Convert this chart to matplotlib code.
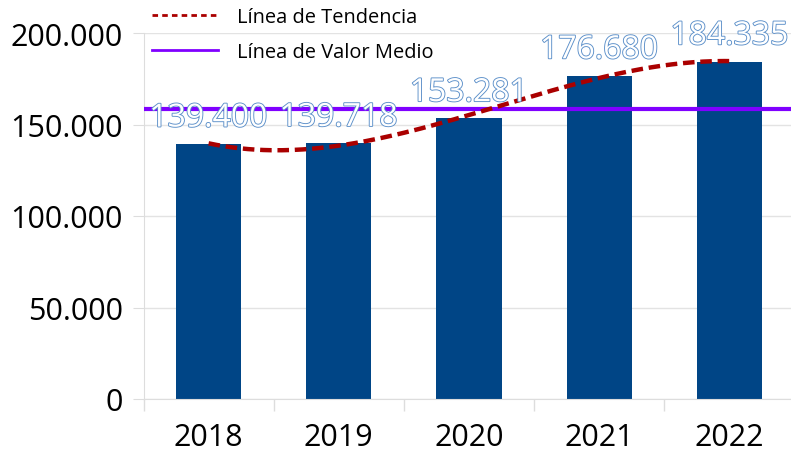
import numpy as np
import matplotlib
matplotlib.use('Agg')
import matplotlib.pyplot as plt
import matplotlib.ticker as ticker
import matplotlib.patheffects as pe
from matplotlib.lines import Line2D

years = ['2018', '2019', '2020', '2021', '2022']
valores = [139400, 139718, 153281, 176680, 184335]
etiquetas = ['139.400', '139.718', '153.281', '176.680', '184.335']
leyenda = ['Línea de Tendencia', 'Línea de Valor Medio']

plt.rcParams['font.family'] = ['Open Sans', 'DejaVu Sans']

fig = plt.figure(figsize=(7.91, 4.52), dpi=100)
ax = fig.add_axes([143.5 / 791, 52 / 452, 651 / 791, 366 / 452])

x = np.arange(len(years))
ax.bar(x, valores, width=0.5, color='#004586', zorder=2)

media = np.mean(valores)
ax.axhline(media, color='#8000ff', lw=3, zorder=3)

# linea de tendencia (ajuste polinomico)
coef = np.polyfit(x, valores, 3)
xt = np.linspace(0, 4, 200)
ax.plot(xt, np.polyval(coef, xt), color='#aa0000', lw=3.2,
        dashes=(2.6, 1.3), zorder=5)

for xi, v, lab in zip(x, valores, etiquetas):
    ax.annotate(lab, (xi, v), xytext=(0, 12.5), textcoords='offset points',
                ha='center', va='baseline', fontsize=23, color='white',
                zorder=6, annotation_clip=False,
                path_effects=[pe.withStroke(linewidth=1.3, foreground='#5b8fc9')])

ax.set_xlim(-0.5, 4.5)
ax.set_ylim(0, 200000)
ax.yaxis.set_major_locator(ticker.MultipleLocator(50000))
ax.yaxis.set_major_formatter(ticker.FuncFormatter(
    lambda v, p: '{:,.0f}'.format(v).replace(',', '.')))
ax.set_xticks(x)
ax.set_xticklabels(years)
ax.set_xticks(np.arange(-0.5, 5, 1), minor=True)
ax.tick_params(axis='x', which='major', length=0, pad=16.5, labelsize=22)
ax.tick_params(axis='x', which='minor', length=8.5, color='#dddddd', width=1)
ax.tick_params(axis='y', length=8, color='#dddddd', pad=7, labelsize=22)

ax.grid(axis='y', color='#e3e3e3', lw=1, zorder=0)
for s in ['top', 'right']:
    ax.spines[s].set_visible(False)
for s in ['left', 'bottom']:
    ax.spines[s].set_color('#dddddd')

handles = [Line2D([], [], color='#aa0000', lw=2, dashes=(2, 1.5)),
           Line2D([], [], color='#8000ff', lw=2)]
fig.legend(handles, leyenda, loc='upper left',
           bbox_to_anchor=(152 / 791, 1 - 8 / 452), frameon=False,
           fontsize=14.4, handlelength=3.3, handletextpad=0.95,
           labelspacing=0.75, borderpad=0, borderaxespad=0)

fig.savefig('out.png', dpi=100)
